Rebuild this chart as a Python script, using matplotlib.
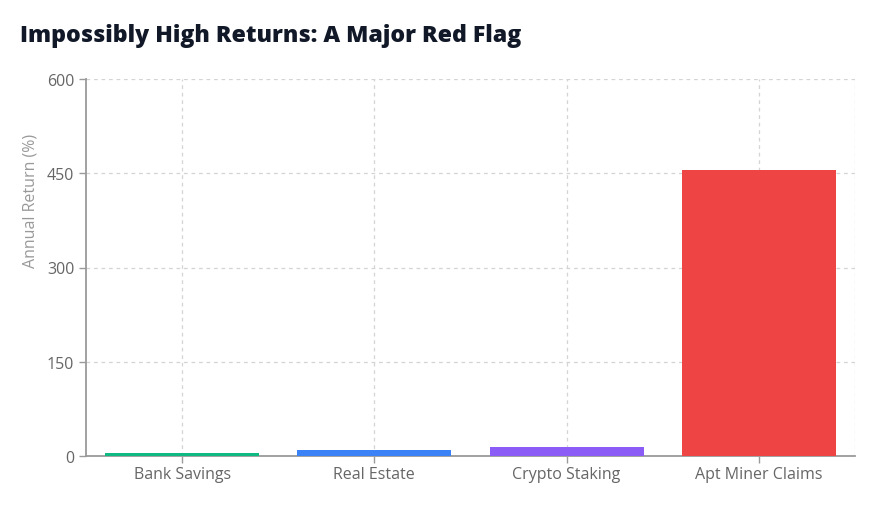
import matplotlib.pyplot as plt

# ── Data ──────────────────────────────────────────────────────────────────────
categories = ['Bank Savings', 'Real Estate', 'Crypto Staking', 'Apt Miner Claims']
returns = [4.5, 10, 15, 455]
bar_colors = ['#10b981', '#3b82f6', '#8b5cf6', '#ef4444']
y_ticks = [0, 150, 300, 450, 600]

plt.rcParams['font.family'] = ['Open Sans', 'DejaVu Sans']

# ── Canvas ────────────────────────────────────────────────────────────────────
W, H = 878, 510
fig = plt.figure(figsize=(W / 100, H / 100), dpi=100)
fig.patch.set_facecolor('white')
ax = fig.add_axes([86 / W, 1 - 457 / H, (855 - 86) / W, (457 - 80) / H])

x = range(len(categories))
ax.bar(x, returns, width=0.8, color=bar_colors, zorder=3)

ax.set_xlim(-0.5, len(categories) - 0.5)
ax.set_ylim(0, 600)
ax.set_yticks(y_ticks)
ax.set_xticks(list(x))
ax.set_xticklabels(categories)

# grid
grid_kw = dict(color='#d4d4d4', linestyle=(0, (3, 3)), linewidth=0.9, zorder=0)
ax.grid(True, **grid_kw)
ax.axvline(len(categories) - 0.5, **grid_kw)

for s in ['top', 'right']:
    ax.spines[s].set_visible(False)
for s in ['left', 'bottom']:
    ax.spines[s].set_color('#9a9a9a')
    ax.spines[s].set_linewidth(1.3)
ax.tick_params(axis='both', colors='#9a9a9a', labelcolor='#666666',
               labelsize=11.5, length=5, width=1)
ax.tick_params(axis='x', pad=2)

ax.set_ylabel('Annual Return (%)', fontsize=11.5, color='#999999')
ax.yaxis.set_label_coords(-0.0624, 0.68)

fig.text(20 / W, 1 - 36 / H, 'Impossibly High Returns: A Major Red Flag',
         fontsize=16.7, fontweight='heavy', color='#111827', ha='left', va='center')

plt.savefig('out.png', dpi=100, facecolor='white')
plt.close()
